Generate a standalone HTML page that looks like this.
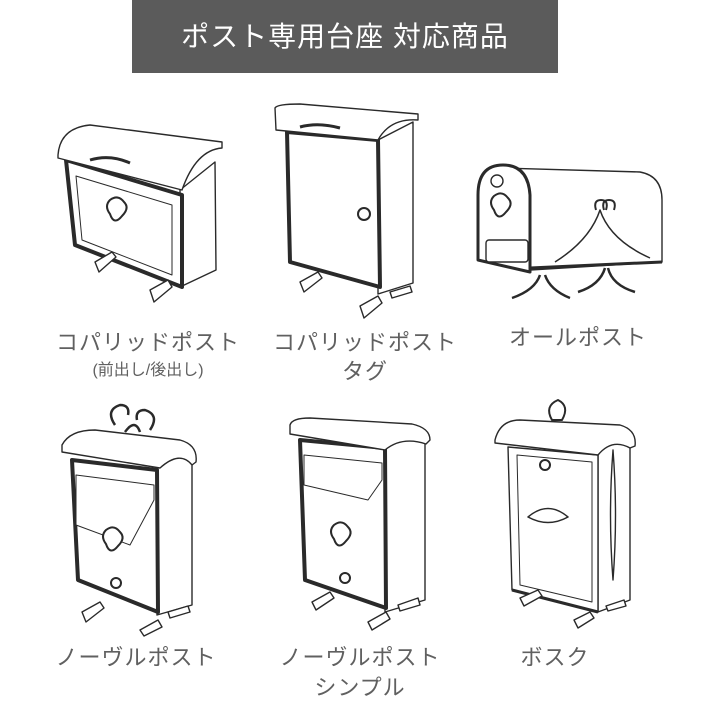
<!DOCTYPE html>
<html><head><meta charset="utf-8">
<style>
html,body{margin:0;padding:0;background:#fff;}
body{width:720px;height:720px;overflow:hidden;position:relative;font-family:"Liberation Sans","Noto Sans CJK JP",sans-serif;}
.hdr{position:absolute;left:132px;top:0;width:426px;height:73px;background:#5b5b5b;color:#fff;font-size:28px;line-height:73px;text-align:center;letter-spacing:1px;}
.lb{position:absolute;color:#606060;font-size:22px;letter-spacing:1px;text-align:center;width:240px;line-height:28px;font-weight:400;}
.sm{font-size:16px;letter-spacing:0;}
svg{position:absolute;left:0;top:0;}
</style></head><body>
<div class="hdr">ポスト専用台座 対応商品</div>
<svg width="720" height="720" viewBox="0 0 720 720" fill="#fff" stroke="#2a2a2a" stroke-width="1.4" stroke-linejoin="round">
<!-- Box 1 -->
<g>
<path d="M180 190 L215 162 L216 270 L180 287 Z"/>
<path d="M66 160 L182 195 L182 287 L75 245 Z"/>
<path d="M66 160 L182 195 L182 287 L75 245 Z" fill="none" stroke-width="4"/>
<path d="M76 176 L172 205 L172 275 L82 240 Z" fill="none" stroke-width="1"/>
<path d="M58 155 Q60 128 90 125 L222 142 L222 148 Q196 150 182 190 L58 158 Z"/>
<path d="M90 160 Q110 154 130 163" fill="none" stroke-width="3"/>
<path d="M110 200 q8 -6 14 2 q6 6 -2 14 q-8 10 -12 -2 q-6 -8 0 -14z" fill="#fff" stroke-width="2"/>
<path d="M95 262 L112 252 L116 257 L99 272 Z M150 290 L168 280 L172 287 L154 302 Z" fill="#fff"/>
</g>
<!-- Box 2 -->
<g>
<path d="M378 140 L413 122 L413 283 L378 294 Z"/>
<path d="M287 132 L378 140 L380 287 L290 262 Z" stroke-width="4"/>
<path d="M275 108 Q277 104 300 104 L418 114 L418 120 Q390 118 378 140 L276 130 Z"/>
<path d="M300 127 Q318 122 340 128" fill="none" stroke-width="3"/>
<circle cx="364" cy="214" r="6" stroke-width="2"/>
<path d="M300 282 L318 272 L322 278 L304 292 Z M360 306 L378 296 L382 303 L364 318 Z M390 292 L410 286 L412 292 L392 298 Z"/>
</g>
<!-- Box 3 -->
<g>
<path d="M500 168 L640 172 Q662 176 662 200 L662 262 L530 270 Z"/>
<path d="M478 260 L478 195 Q478 165 503 165 Q528 165 530 195 L530 272 Z" stroke-width="3"/>
<circle cx="497" cy="181" r="6"/>
<path d="M494 196 q8 -6 14 2 q6 6 -2 14 q-8 10 -12 -2 q-6 -8 0 -14z" stroke-width="2"/>
<rect x="486" y="240" width="42" height="22" rx="3"/>
<path d="M530 268 L662 262" fill="none" stroke-width="3"/>
<path d="M555 262 Q590 240 600 210 Q610 240 650 258" fill="none" stroke-width="1.5"/>
<path d="M596 210 q-3 -10 5 -10 q8 0 5 10 M604 210 q-3 -10 5 -10 q8 0 5 10" fill="none" stroke-width="2"/>
<path d="M512 298 Q535 290 540 275 M570 298 Q550 290 545 275 M578 292 Q600 285 605 268 M635 292 Q612 285 608 268" fill="none" stroke-width="2.5"/>
</g>
<!-- Box 4 -->
<g>
<path d="M157 462 L192 448 L192 605 L157 615 Z"/>
<path d="M72 460 L157 470 L158 612 L78 580 Z" stroke-width="4"/>
<path d="M76 475 L154 485 L154 500 L130 545 L76 525 Z" fill="#fff" stroke-width="1"/>
<path d="M62 445 Q70 430 95 430 L180 440 Q198 445 196 462 L192 465 Q180 450 160 468 L62 452 Z"/>
<path d="M115 425 q-10 -15 5 -20 q10 0 8 10 M150 430 q10 -15 -5 -20 q-10 0 -8 10 M125 432 Q135 418 140 432" fill="none" stroke-width="2.5"/>
<path d="M106 530 q8 -6 14 2 q6 6 -2 14 q-8 10 -12 -2 q-6 -8 0 -14z" stroke-width="2"/>
<circle cx="116" cy="583" r="5" stroke-width="2"/>
<path d="M82 612 L100 602 L104 608 L86 622 Z M140 630 L158 620 L162 627 L144 636 Z M168 612 L188 606 L190 612 L170 618 Z"/>
</g>
<!-- Box 5 -->
<g>
<path d="M385 442 L425 430 L425 600 L385 612 Z"/>
<path d="M300 440 L385 448 L386 608 L305 580 Z" stroke-width="4"/>
<path d="M304 455 L382 463 L382 480 L368 500 L304 485 Z" stroke-width="1"/>
<path d="M290 425 Q292 418 310 418 L412 424 Q430 428 430 440 L426 444 Q402 436 385 450 L290 434 Z"/>
<path d="M334 525 q8 -6 14 2 q6 6 -2 14 q-8 10 -12 -2 q-6 -8 0 -14z" stroke-width="2"/>
<circle cx="345" cy="578" r="5" stroke-width="2"/>
<path d="M312 602 L330 592 L334 598 L316 610 Z M368 622 L386 612 L390 619 L372 630 Z M398 605 L418 598 L420 605 L400 611 Z"/>
</g>
<!-- Box 6 -->
<g>
<path d="M598 445 L630 436 L630 600 L598 612 Z"/>
<path d="M508 447 L598 455 L598 612 L512 590 Z"/>
<path d="M512 590 L598 612" fill="none" stroke-width="3"/>
<path d="M517 455 L592 462 L592 602 L520 585 Z" fill="none" stroke-width="1"/>
<path d="M613 450 Q618 515 613 580 Q608 515 613 450 Z" fill="none"/>
<path d="M495 440 Q500 420 520 420 L620 425 Q637 430 635 446 L630 448 Q612 438 598 455 L495 443 Z"/>
<path d="M552 420 q-8 -14 6 -20 q12 6 4 20 Z" stroke-width="2"/>
<circle cx="545" cy="465" r="5" stroke-width="2"/>
<path d="M528 517 Q548 500 568 517 Q548 528 528 517 Z" stroke-width="1.5"/>
<path d="M520 598 L538 590 L542 596 L524 606 Z M574 620 L590 612 L594 618 L578 628 Z M606 606 L624 600 L626 606 L608 611 Z"/>
</g>
</svg>
<div class="lb" style="left:28px;top:329px;">コパリッドポスト</div>
<div class="lb sm" style="left:28px;top:357px;">(前出し/後出し)</div>
<div class="lb" style="left:245px;top:329px;">コパリッドポスト</div>
<div class="lb" style="left:245px;top:358px;">タグ</div>
<div class="lb" style="left:458px;top:324px;">オールポスト</div>
<div class="lb" style="left:16px;top:644px;">ノーヴルポスト</div>
<div class="lb" style="left:240px;top:644px;">ノーヴルポスト</div>
<div class="lb" style="left:240px;top:674px;">シンプル</div>
<div class="lb" style="left:435px;top:644px;">ボスク</div>
</body></html>
